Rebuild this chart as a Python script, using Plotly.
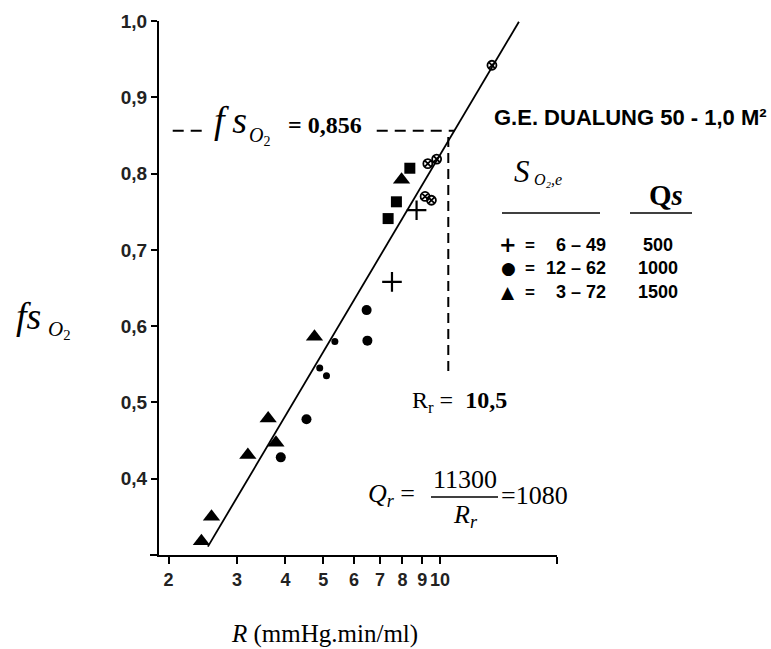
import math
import plotly.graph_objects as go

# ---- measured points: relative resistance R vs oxygen fraction fs_O2 ----
# Qs = 500 ml/min  (S_O2,e 6-49)
r_500 = [7.52, 8.70]
fs_500 = [0.658, 0.752]
# Qs = 1000 ml/min (S_O2,e 12-62)
r_1000 = [3.89, 4.53, 6.47, 6.50]
fs_1000 = [0.428, 0.478, 0.621, 0.581]
r_1000_small = [4.90, 5.10, 5.36]
fs_1000_small = [0.545, 0.535, 0.580]
# Qs = 1500 ml/min (S_O2,e 3-72)
r_1500 = [2.43, 2.58, 3.20, 3.61, 3.78, 4.75, 7.96]
fs_1500 = [0.318, 0.350, 0.431, 0.479, 0.447, 0.586, 0.792]
# additional runs (squares and superimposed symbols)
r_square = [7.35, 7.72, 8.36]
fs_square = [0.741, 0.763, 0.807]
r_overlap = [9.15, 9.50, 9.30, 9.80, 13.6]
fs_overlap = [0.770, 0.765, 0.813, 0.819, 0.942]

# regression line end points
fit_r = [2.525, 15.96]
fit_fs = [0.311, 0.999]

# rated point
fs_rated = 0.856
r_rated = 10.5
fs_vline_bottom = 0.534

x_tickvals = [2, 3, 4, 5, 6, 7, 8, 9, 10, 20]
x_ticktext = ["2", "3", "4", "5", "6", "7", "8", "9", "10", ""]
y_tickvals = [0.4, 0.5, 0.6, 0.7, 0.8, 0.9, 1.0]
y_ticktext = ["0,4", "0,5", "0,6", "0,7", "0,8", "0,9", "1,0"]

SERIF = "Liberation Serif, Times New Roman, serif"
SANS = "Liberation Sans, Arial, sans-serif"

# where the fitted line crosses fs = 0.856
slope = (fit_fs[1] - fit_fs[0]) / (math.log10(fit_r[1]) - math.log10(fit_r[0]))
r_cross = 10 ** (math.log10(fit_r[0]) + (fs_rated - fit_fs[0]) / slope)

fig = go.Figure()

fig.add_trace(go.Scatter(x=fit_r, y=fit_fs, mode="lines",
                         line=dict(color="black", width=1.8)))

# horizontal dashed guide (broken around its label)
fig.add_trace(go.Scatter(x=[2.05, 2.48, None, 6.87, r_cross],
                         y=[fs_rated, fs_rated, None, fs_rated, fs_rated],
                         mode="lines",
                         line=dict(color="black", width=2, dash="11px,7px")))
# vertical dashed guide
fig.add_trace(go.Scatter(x=[r_rated, r_rated], y=[fs_rated - 0.008, fs_vline_bottom],
                         mode="lines",
                         line=dict(color="black", width=2, dash="10px,6px")))

fig.add_trace(go.Scatter(x=r_1500, y=fs_1500, mode="markers",
                         marker=dict(symbol="triangle-up", size=15, color="black")))
fig.add_trace(go.Scatter(x=r_1000, y=fs_1000, mode="markers",
                         marker=dict(symbol="circle", size=10, color="black")))
fig.add_trace(go.Scatter(x=r_1000_small, y=fs_1000_small, mode="markers",
                         marker=dict(symbol="circle", size=7, color="black")))
fig.add_trace(go.Scatter(x=r_500, y=fs_500, mode="markers",
                         marker=dict(symbol="cross-thin", size=14,
                                     line=dict(color="black", width=2.2))))
fig.add_trace(go.Scatter(x=r_square, y=fs_square, mode="markers",
                         marker=dict(symbol="square", size=11, color="black")))
fig.add_trace(go.Scatter(x=r_overlap, y=fs_overlap, mode="markers",
                         marker=dict(symbol="circle-x-open", size=9, color="black",
                                     line=dict(color="black", width=1.8))))

L, R, T, B = 159, 214, 21, 94
W, H = 771, 649
PW, PH = W - L - R, H - T - B


def pos(px, py):
    return dict(x=(px - L) / PW, y=(H - B - py) / PH, xref="paper", yref="paper")


def label(text, px, py, size, family=SERIF, xanchor="left", yanchor="middle", weight="normal"):
    fig.add_annotation(text=text, showarrow=False, xanchor=xanchor, yanchor=yanchor,
                       font=dict(family=family, size=size, color="black", weight=weight),
                       **pos(px, py))


def hline(px0, px1, py, width=1.5):
    a = pos(px0, py)
    b = pos(px1, py)
    fig.add_shape(type="line", xref="paper", yref="paper",
                  x0=a["x"], x1=b["x"], y0=a["y"], y1=b["y"],
                  line=dict(color="black", width=width))


# x axis line runs a little past the y axis on the left
hline(150, 159, H - B, width=2)

# fs_O2 = 0,856 label on the horizontal guide
label("<i>f\u2009s</i>", 212, 120, 38)
label("<i>O</i><sub>2</sub>", 247, 136, 20)
label("= 0,856", 286, 125, 24, weight="bold")

# device title
label("G.E. DUALUNG 50 - 1,0 M²", 492, 117, 22, family=SANS, weight="bold")

# symbol key
label("<i>S</i>", 512, 171, 31)
label("<i>O₂,e</i>", 532, 180, 16)
hline(502, 600, 213)
label("<b>Q</b><i>s</i>", 666, 195, 29, xanchor="center", weight="bold")
hline(630, 692, 213)

key_rows = [("+", "6 – 49", "500"), ("●", "12 – 62", "1000"), ("▲", "3 – 72", "1500")]
key_y = [245, 268, 292]
for (sym, rng, qs), y in zip(key_rows, key_y):
    label(sym, 508, y, 21 if sym == "+" else 17, family="DejaVu Sans", xanchor="center", weight="bold")
    label("=", 530, y, 17, family=SANS, xanchor="center", weight="bold")
    label(rng, 608, y, 18, family=SANS, xanchor="right", weight="bold")
    label(qs, 658, y, 18, family=SANS, xanchor="center", weight="bold")

# R_r label
label("R<sub>r</sub> =  <b>10,5</b>", 410, 402, 24)

# Q_r = 11300 / R_r = 1080
label("<i>Q<sub>r</sub></i> =", 366, 495, 26)
label("11300", 465, 479, 26, xanchor="center")
hline(431, 498, 497, width=1.3)
label("<i>R<sub>r</sub></i>", 465, 516, 26, xanchor="center")
label("=1080", 499, 495, 26)

# axis titles
label("<i>fs</i>", 14, 316, 38)
label("<i>O</i><sub>2</sub>", 46, 330, 21)
label("<i>R</i> (mmHg.min/ml)", 324, 634, 25, xanchor="center")

fig.update_layout(
    width=W, height=H,
    margin=dict(l=L, r=R, t=T, b=B),
    paper_bgcolor="white", plot_bgcolor="white",
    showlegend=False,
    xaxis=dict(type="log", range=[math.log10(1.89), math.log10(20)],
               tickvals=x_tickvals, ticktext=x_ticktext, tickangle=0,
               showgrid=False, zeroline=False, showline=True,
               linecolor="black", linewidth=2,
               ticks="outside", ticklen=7, tickwidth=2, tickcolor="black",
               tickfont=dict(family=SANS, size=18, color="#222", weight="bold")),
    yaxis=dict(range=[0.3, 1.0], tickvals=y_tickvals, ticktext=y_ticktext,
               showgrid=False, zeroline=False, showline=True,
               linecolor="black", linewidth=2,
               ticks="outside", ticklen=6, tickwidth=2, tickcolor="black",
               tickfont=dict(family=SANS, size=19, color="#222", weight="bold")),
)

fig.write_html("out.html")
